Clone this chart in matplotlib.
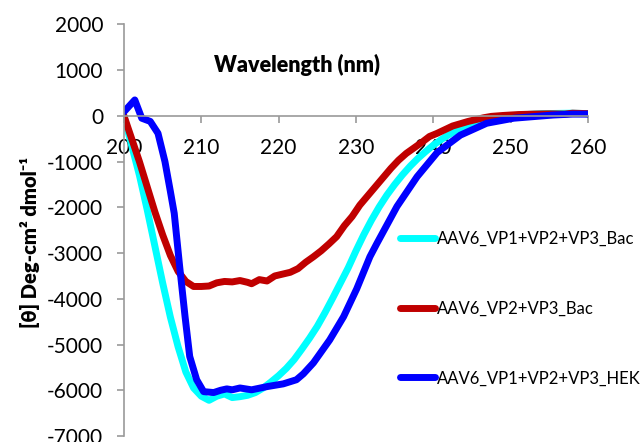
import numpy as np
import matplotlib
matplotlib.use("Agg")
import matplotlib.pyplot as plt

plt.rcParams['font.family'] = ['Lato', 'DejaVu Sans']
plt.rcParams['axes.unicode_minus'] = False

# CD spectra (wavelength nm, mean residue ellipticity)
wl_vp123_bac = [200, 201, 202, 203, 204, 205, 206, 207, 208, 209, 210, 211, 212, 213,
                214, 215, 216, 217, 218, 219, 220, 221, 222, 223, 224, 225, 226, 227,
                228, 229, 230, 231, 232, 233, 234, 235, 236, 237, 238, 239, 240, 241,
                242, 243, 244, 245, 246, 247, 248, 250, 252, 254, 256, 258, 260]
th_vp123_bac = [0, -650, -1300, -2050, -2850, -3650, -4400, -5050, -5600, -5950, -6130,
                -6220, -6130, -6080, -6160, -6140, -6110, -6050, -5950, -5820, -5680,
                -5520, -5330, -5100, -4860, -4600, -4300, -3980, -3650, -3320, -2950,
                -2600, -2280, -1990, -1730, -1500, -1290, -1100, -930, -780, -640, -520,
                -410, -320, -240, -180, -130, -90, -50, 0, 30, 50, 55, 60, 50]

wl_vp23_bac = [200, 201, 202, 203, 204, 205, 206, 207, 208, 209, 210, 211, 212, 213,
               214, 215, 216, 216.5, 217.5, 218.5, 219.5, 220.5, 221.5, 222.5, 223.5,
               224.5, 225.5, 226.5, 227.5, 228.5, 229.5, 230.5, 231.5, 232.5, 233.5,
               234.5, 235.5, 236.5, 237.5, 238.5, 239.5, 240.5, 241.5, 242.5, 243.5,
               244.5, 245.5, 246.5, 247.5, 249, 251, 253, 255, 257, 258, 260]
th_vp23_bac = [0, -500, -1000, -1550, -2100, -2600, -3050, -3400, -3620, -3730, -3730,
               -3720, -3650, -3620, -3630, -3600, -3640, -3670, -3580, -3610, -3500,
               -3460, -3420, -3340, -3200, -3080, -2950, -2800, -2640, -2400, -2200,
               -1950, -1750, -1550, -1350, -1150, -970, -820, -700, -580, -450, -380,
               -300, -220, -170, -120, -80, -40, -10, 10, 30, 40, 45, 40, 60, 50]

wl_vp123_hek = [200, 201.4, 202.3, 203.4, 204.4, 205.3, 206, 206.5, 207.2, 207.9, 208.5,
                209.4, 210.3, 211.6, 212.5, 213.3, 214, 215, 216.5, 218.5, 220.6, 222.3,
                223.2, 224.5, 226.6, 228.4, 230.1, 231.8, 232.7, 235.3, 237.9, 240.5,
                243.5, 246.9, 250.4, 255.5, 258, 260]
th_vp123_hek = [90, 350, -50, -120, -380, -1000, -1650, -2130, -3290, -4390, -5260, -5770,
                -6030, -6050, -6000, -5970, -5990, -5950, -5990, -5920, -5860, -5770,
                -5640, -5400, -4900, -4390, -3780, -3080, -2790, -1980, -1330, -800,
                -420, -160, -50, 20, 40, 40]

labels = ['AAV6_VP1+VP2+VP3_Bac', 'AAV6_VP2+VP3_Bac', 'AAV6_VP1+VP2+VP3_HEK']
colors = ['#00FFFF', '#C00000', '#0000FF']
x_ticks = [200, 210, 220, 230, 240, 250, 260]
y_ticks = list(range(-7000, 2001, 1000))

fig = plt.figure(figsize=(6.41, 4.42), dpi=100)
ax = fig.add_axes([0.1934, 0.0136, 0.7239, 0.931])

series = [(wl_vp123_bac, th_vp123_bac), (wl_vp23_bac, th_vp23_bac),
          (wl_vp123_hek, th_vp123_hek)]
for (x, y), lab, c in zip(series, labels, colors):
    ax.plot(x, y, color=c, lw=5, label=lab, solid_capstyle='round',
            solid_joinstyle='round')

ax.set_xlim(200, 260)
ax.set_ylim(-7000, 2000)
ax.set_xticks(x_ticks)
ax.set_yticks(y_ticks)

for s in ['top', 'right']:
    ax.spines[s].set_visible(False)
ax.spines['bottom'].set_position(('data', 0))
for s in ['left', 'bottom']:
    ax.spines[s].set_color('#9a9a9a')
    ax.spines[s].set_linewidth(1.2)

ax.tick_params(axis='both', colors='#9a9a9a', length=5, width=1.2,
               labelcolor='black', labelsize=15)
ax.tick_params(axis='x', pad=11)
ax.tick_params(axis='y', pad=10)

fig.text(0.463, 0.853, 'Wavelength (nm)', fontsize=15.5, fontweight='heavy',
         ha='center', va='center')
ax.set_ylabel('[θ] Deg-cm² dmol⁻¹', fontsize=14.5, fontweight='heavy')
ax.yaxis.set_label_coords(-0.18, 0.47)

ax.legend(loc='upper left', bbox_to_anchor=(0.624, 0.4774),
          bbox_transform=fig.transFigure, frameon=False, fontsize=12,
          handlelength=2.1, handletextpad=0.1, labelspacing=3.22,
          borderaxespad=0, borderpad=0)

fig.savefig('out.png', dpi=100)
